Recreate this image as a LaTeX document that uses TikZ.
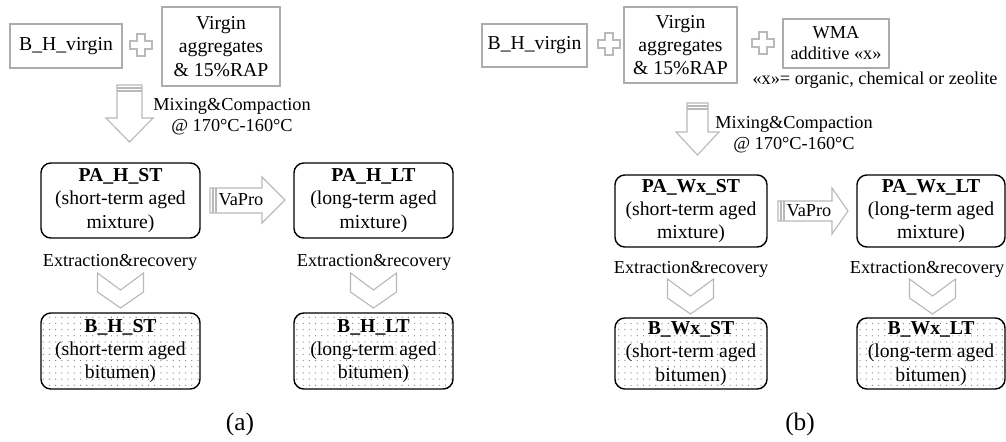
\documentclass[tikz,border=0pt]{standalone}
\usepackage{fontspec}
\setmainfont{Liberation Serif}
\usetikzlibrary{patterns.meta}

\newcommand{\boxtxt}{\fontsize{14}{16.5}\selectfont}
\newcommand{\labtxt}{\fontsize{13}{15}\selectfont}

\tikzset{
  plussign/.pic={
    \draw[blockarrow] (-4,-11) -- (4,-11) -- (4,-4) -- (11,-4) -- (11,4) -- (4,4)
      -- (4,11) -- (-4,11) -- (-4,4) -- (-11,4) -- (-11,-4) -- (-4,-4) -- cycle;
  },
  chevron/.pic={
    \draw[blockarrow] (-23,-17) -- (0,0) -- (23,-17) -- (23,2) -- (0,18) -- (-23,2) -- cycle;
  }
}

\begin{document}
\begin{tikzpicture}[x=0.025cm, y=-0.025cm,
    graybox/.style={draw=gray!65, line width=1.1pt, inner sep=0pt, outer sep=0pt, align=center, font=\boxtxt},
    mixbox/.style={draw=black, line width=1pt, rounded corners=7pt, inner sep=0pt, outer sep=0pt, align=center, font=\boxtxt},
    bitbox/.style={mixbox, pattern={Dots[radius=0.45pt,distance=4.4pt]}, pattern color=gray},
    blockarrow/.style={draw=gray!55, line width=0.8pt, fill=white, line join=miter},
    lab/.style={align=center, font=\labtxt, inner sep=0pt}]
  \useasboundingbox (0,0) rectangle (1006,441);

  % (a) hot mix
  \node[graybox, minimum width=2.8cm, minimum height=1.1cm] (bhva) at (66,46) {B\_H\_virgin};
  \node[graybox, minimum width=2.95cm, minimum height=1.975cm] (virga) at (221,46.5) {Virgin\\aggregates\\\& 15\%RAP};
  \pic at (141,45) {plussign};

  \draw[blockarrow] (117,85) -- (142,85) -- (142,118) -- (153,118) -- (129.5,142) -- (106,118) -- (117,118) -- cycle;
  \draw[blockarrow] (117,88) -- (142,88) (117,91) -- (142,91);
  \node[lab] (mixa) at (232,117) {Mixing\&Compaction\\@ 170°C-160°C};

  \node[mixbox, minimum width=3.975cm, minimum height=1.875cm] (pahst) at (120.5,200.5) {\textbf{PA\_H\_ST}\\(short-term aged\\mixture)};
  \node[mixbox, minimum width=3.975cm, minimum height=1.875cm] (pahlt) at (373.5,200.5) {\textbf{PA\_H\_LT}\\(long-term aged\\mixture)};

  \draw[blockarrow] (210,188) -- (262,188) -- (262,177) -- (285,200) -- (262,223) -- (262,213) -- (210,213) -- cycle;
  \draw[blockarrow] (213,188) -- (213,213) (216,188) -- (216,213);
  \node[lab] (vpa) at (241,200) {VaPro};

  \node[lab] (exa1) at (120,262) {Extraction\&recovery};
  \node[lab] (exa2) at (374,262) {Extraction\&recovery};
  \pic at (120.5,290) {chevron};
  \pic at (373.5,290) {chevron};

  \node[bitbox, minimum width=3.975cm, minimum height=1.9cm] (bhst) at (120.5,351) {\textbf{B\_H\_ST}\\(short-term aged\\bitumen)};
  \node[bitbox, minimum width=3.975cm, minimum height=1.9cm] (bhlt) at (373.5,351) {\textbf{B\_H\_LT}\\(long-term aged\\bitumen)};

  \node[font=\fontsize{18}{20}\selectfont, inner sep=0pt] (capa) at (240,424) {(a)};

  % (b) warm mix
  \node[graybox, minimum width=2.625cm, minimum height=1.075cm] (bhvb) at (534.5,45.5) {B\_H\_virgin};
  \pic at (609,44) {plussign};
  \node[graybox, minimum width=2.825cm, minimum height=1.9cm] (virgb) at (680.5,45) {Virgin\\aggregates\\\& 15\%RAP};
  \pic at (763,43) {plussign};
  \node[graybox, minimum width=2.65cm, minimum height=1.225cm, font=\labtxt] (wma) at (836,43.5) {WMA\\additive «x»};
  \node[lab] (wmanote) at (875,80) {«x»= organic, chemical or zeolite};

  \draw[blockarrow] (687,103) -- (708,103) -- (708,132) -- (719,132) -- (697.5,155) -- (676,132) -- (687,132) -- cycle;
  \draw[blockarrow] (687,106) -- (708,106) (687,109) -- (708,109);
  \node[lab] (mixb) at (794,135) {Mixing\&Compaction\\@ 170°C-160°C};

  \node[mixbox, minimum width=3.8cm, minimum height=1.8cm] (pawst) at (691,211) {\textbf{PA\_Wx\_ST}\\(short-term aged\\mixture)};
  \node[mixbox, minimum width=3.7cm, minimum height=1.8cm] (pawlt) at (931,211) {\textbf{PA\_Wx\_LT}\\(long-term aged\\mixture)};

  \draw[blockarrow] (778,201) -- (832,201) -- (832,188) -- (848,211) -- (832,234) -- (832,221) -- (778,221) -- cycle;
  \draw[blockarrow] (781,201) -- (781,221) (784,201) -- (784,221);
  \node[lab] (vpb) at (809,211) {VaPro};

  \node[lab] (exb1) at (691,269) {Extraction\&recovery};
  \node[lab] (exb2) at (927,269) {Extraction\&recovery};
  \pic at (690.5,296) {chevron};
  \pic at (932.5,296) {chevron};

  \node[bitbox, minimum width=3.8cm, minimum height=1.775cm] (bwst) at (691,353.5) {\textbf{B\_Wx\_ST}\\(short-term aged\\bitumen)};
  \node[bitbox, minimum width=3.7cm, minimum height=1.775cm] (bwlt) at (931,353.5) {\textbf{B\_Wx\_LT}\\(long-term aged\\bitumen)};

  \node[font=\fontsize{18}{20}\selectfont, inner sep=0pt] (capb) at (800,424) {(b)};
\end{tikzpicture}
\end{document}
